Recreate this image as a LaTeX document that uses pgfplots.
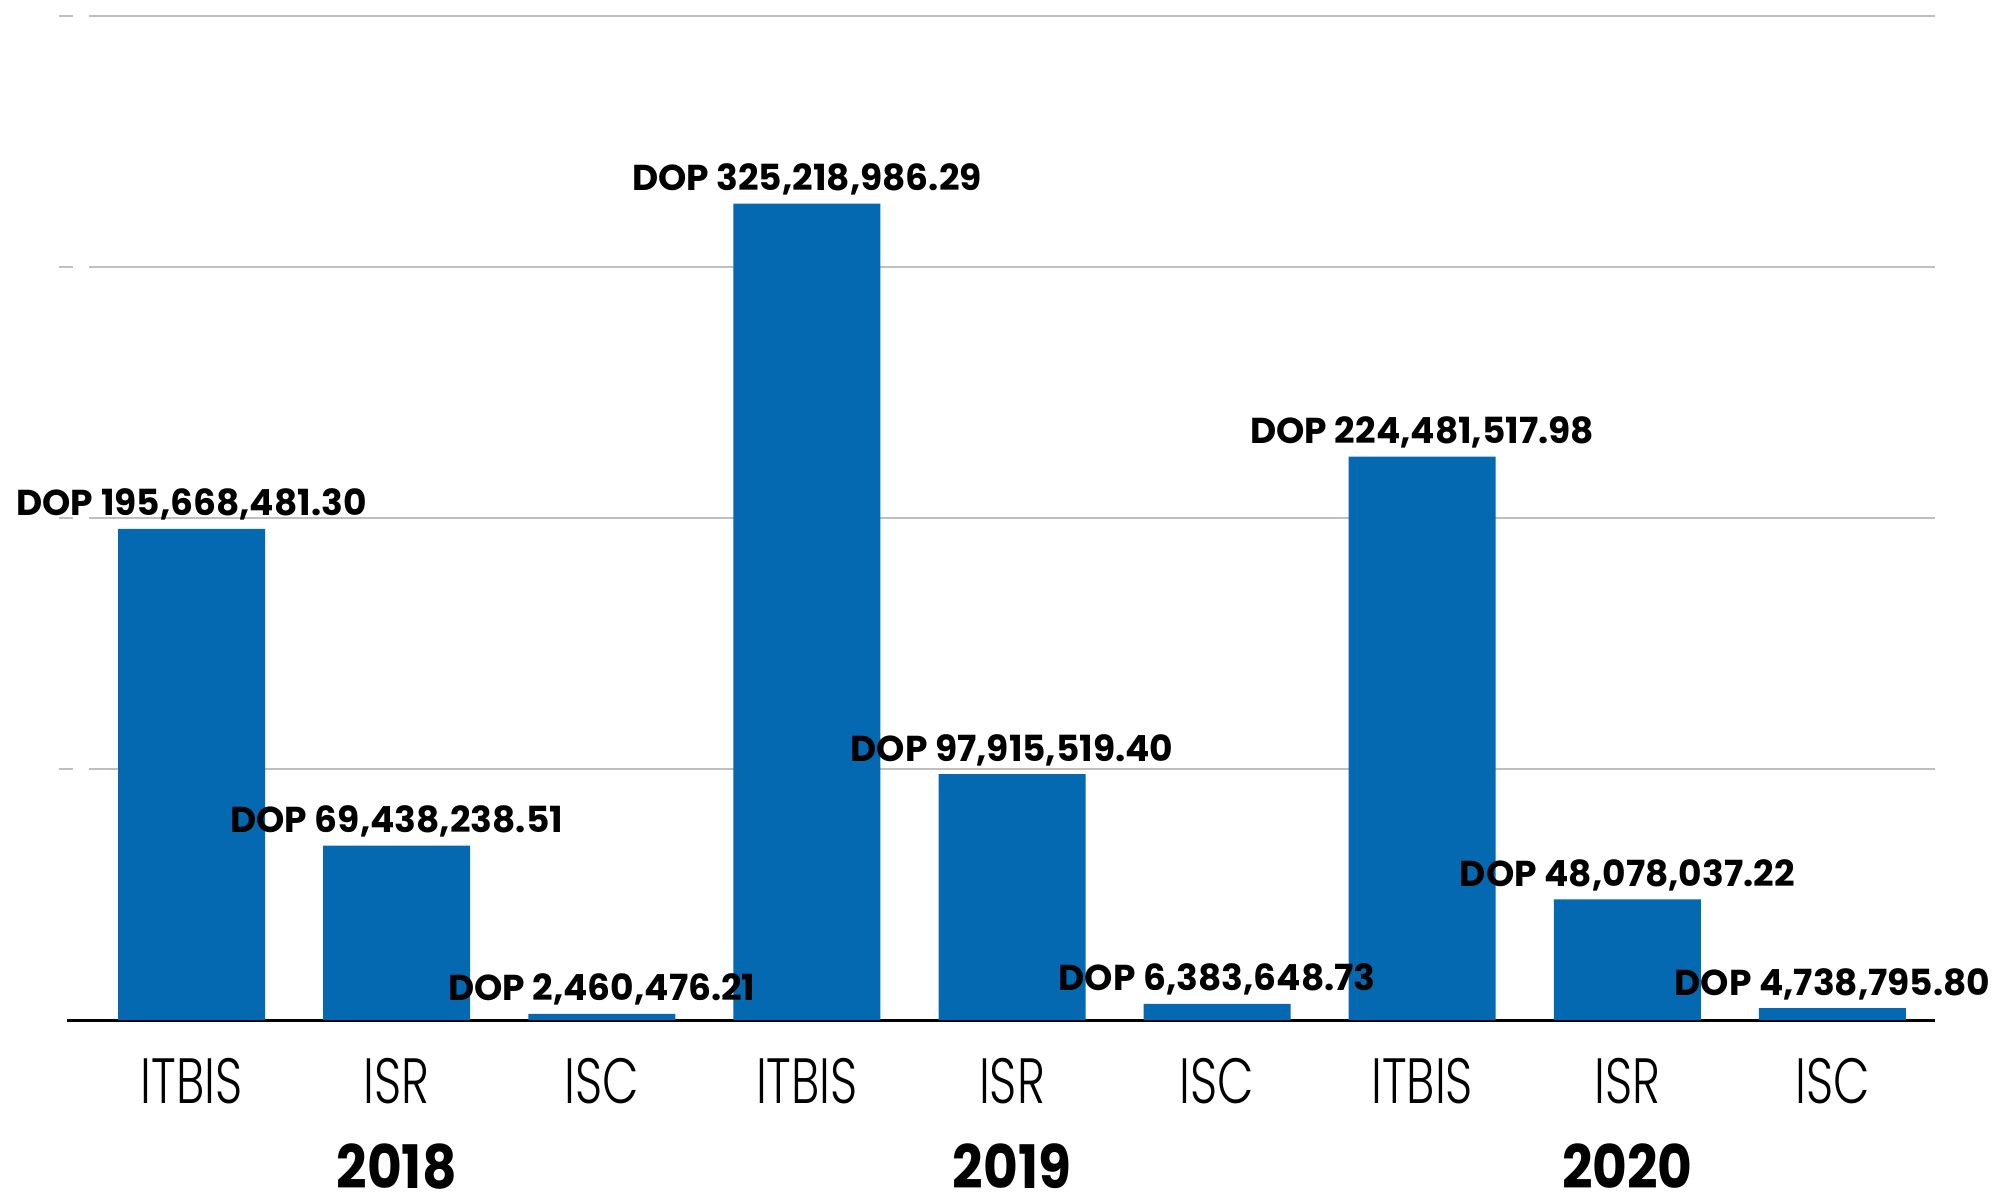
\documentclass[border=0pt]{standalone}
\usepackage{pgfplots}
\pgfplotsset{compat=1.18}
\usepackage{pgfplotstable}
\usepackage{fontspec}
\setmainfont{Poppins}
\newfontfamily\catfont[FakeStretch=0.74]{Poppins Light}
\newfontfamily\valfont[FakeStretch=1.0]{Poppins Bold}
\newfontfamily\yearfont[FakeStretch=0.89]{Poppins Bold}
\usetikzlibrary{calc}
\definecolor{barblue}{HTML}{0569B1}
\definecolor{gridgray}{HTML}{BFBFBF}

\pgfplotstableread{
x y label
0 195.66848130 {DOP 195,668,481.30}
1 69.43823851 {DOP 69,438,238.51}
2 2.46047621 {DOP 2,460,476.21}
3 325.21898629 {DOP 325,218,986.29}
4 97.91551940 {DOP 97,915,519.40}
5 6.38364873 {DOP 6,383,648.73}
6 224.48151798 {DOP 224,481,517.98}
7 48.07803722 {DOP 48,078,037.22}
8 4.73879580 {DOP 4,738,795.80}
}\datatable

\begin{document}
\begin{tikzpicture}
\begin{axis}[
  scale only axis, width=923pt, height=502pt,
  xmin=-0.5, xmax=8.5, ymin=0, ymax=400,
  clip=false,
  axis line style={draw=none},
  xtick={0,...,8},
  xticklabels={ITBIS,ISR,ISC,ITBIS,ISR,ISC,ITBIS,ISR,ISC},
  xtick style={draw=none},
  ytick style={draw=none},
  xticklabel style={font=\catfont\fontsize{32}{32}\selectfont, anchor=base, yshift=-41.5pt, inner sep=0pt},
  ytick={100,200,300,400},
  yticklabels={\textcolor{gridgray}{\rule{7pt}{1.2pt}},\textcolor{gridgray}{\rule{7pt}{1.2pt}},\textcolor{gridgray}{\rule{7pt}{1.2pt}},\textcolor{gridgray}{\rule{7pt}{1.2pt}}},
  yticklabel style={anchor=east, inner sep=0pt, xshift=-8pt},
  ymajorgrids,
  grid style={gridgray, line width=1.2pt},
  extra y ticks={0},
  extra y tick labels={},
  extra y tick style={grid style={black, line width=1.5pt, shorten <=-11pt}},
]
\coordinate (ll) at (rel axis cs:0,0);
\coordinate (ur) at (rel axis cs:1,1);
\addplot[ybar, bar width=73.5pt, fill=barblue, draw=none,
  nodes near coords, point meta=explicit symbolic,
  every node near coord/.append style={font=\valfont\fontsize{18}{18}\selectfont, anchor=base, yshift=6.5pt, text=black, inner sep=0pt}]
  table[x=x, y=y, meta=label]{\datatable};
\node[font=\yearfont\fontsize{30}{30}\selectfont, anchor=base, inner sep=0pt] at (axis cs:1,0) [yshift=-84pt] {2018};
\node[font=\yearfont\fontsize{30}{30}\selectfont, anchor=base, inner sep=0pt] at (axis cs:4,0) [yshift=-84pt] {2019};
\node[font=\yearfont\fontsize{30}{30}\selectfont, anchor=base, inner sep=0pt] at (axis cs:7,0) [yshift=-84pt] {2020};
\end{axis}
\pgfresetboundingbox
\path ($(ll)+(-44.5pt,-87.5pt)$) rectangle ($(ur)+(30pt,8pt)$);
\end{tikzpicture}
\end{document}
